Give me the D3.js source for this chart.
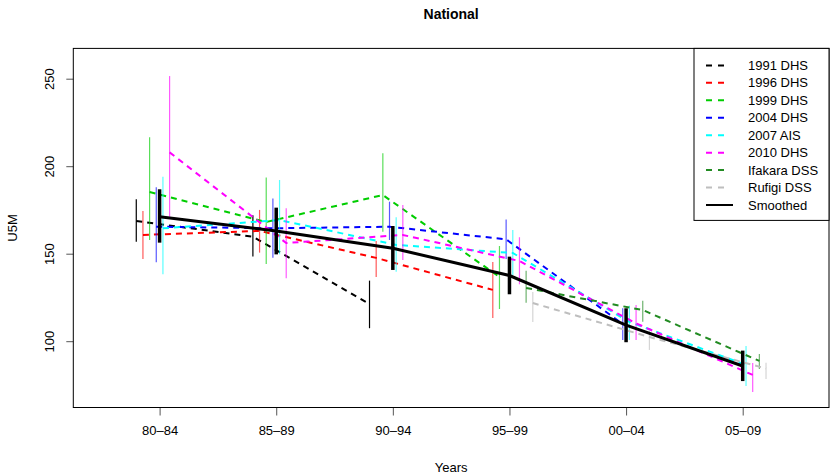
<!DOCTYPE html>
<html>
<head>
<meta charset="utf-8">
<script src="https://cdn.jsdelivr.net/npm/d3@7"></script>
<style>
  body { margin: 0; background: #fff; }
  svg { display: block; font-family: "Liberation Sans", Arial, Helvetica, sans-serif; }
</style>
</head>
<body>
<svg id="chart" width="831" height="476"></svg>
<script>
// Five-year periods and their mid-year positions on the time axis
const periods = ["80–84", "85–89", "90–94", "95–99", "00–04", "05–09"];
const periodMid = [1982.5, 1987.5, 1992.5, 1997.5, 2002.5, 2007.5];
const yTicks = [100, 150, 200, 250];

// Source names, colours and horizontal offset (years) within each period
const sourceNames = ["1991 DHS", "1996 DHS", "1999 DHS", "2004 DHS", "2007 AIS", "2010 DHS", "Ifakara DSS", "Rufigi DSS"];
const sourceColors = ["#000000", "#FF0000", "#00CD00", "#0000FF", "#00FFFF", "#FF00FF", "#228B22", "#BEBEBE"];
const sourceOffsets = [-1, -5 / 7, -3 / 7, -1 / 7, 1 / 7, 3 / 7, 5 / 7, 1];

// Under-five mortality estimates per period (null = no estimate)
const u5m1991 = [169.0, 160.0, 121.5, null, null, null];
const lo1991  = [157.1, 148.7, 107.7, null, null, null];
const hi1991  = [181.4, 172.2, 134.9, null, null, null];

const u5m1996 = [161.0, 163.3, 147.9, 129.6, null, null];
const lo1996  = [147.3, 150.9, 137.0, 113.5, null, null];
const hi1996  = [174.7, 175.3, 157.5, 145.5, null, null];

const u5m1999 = [185.5, 168.4, 183.8, 137.0, null, null];
const lo1999  = [158.1, 144.4, 162.9, 118.7, null, null];
const hi1999  = [216.8, 193.9, 207.7, 154.7, null, null];

const u5m2004 = [165.7, 164.8, 165.7, 158.5, 110.1, null];
const lo2004  = [145.4, 148.0, 158.1, 147.3, 101.0, null];
const hi2004  = [188.2, 181.9, 180.0, 169.9, 119.1, null];

const u5m2007 = [164.8, 169.5, 155.3, 150.7, 111.3, 86.7];
const lo2007  = [138.5, 149.9, 140.0, 138.1, 101.0, 74.7];
const hi2007  = [194.3, 192.4, 171.1, 163.8, 120.6, 97.5];

const u5m2010 = [208.2, 156.4, 161.0, 146.1, 110.5, 81.0];
const lo2010  = [171.4, 136.2, 146.7, 132.8, 101.0, 71.3];
const hi2010  = [251.8, 176.2, 178.1, 159.7, 121.0, 87.8];

const u5mIfakara = [null, null, null, 130.7, 118.1, 89.0];
const loIfakara  = [null, null, null, 122.3, 111.4, 84.4];
const hiIfakara  = [null, null, null, 140.6, 123.4, 93.0];

const u5mRufigi = [null, null, null, 122.1, 102.7, 84.7];
const loRufigi  = [null, null, null, 111.3, 95.3, 78.7];
const hiRufigi  = [null, null, null, 128.4, 106.7, 88.0];

// Smoothed series
const u5mSmooth = [171.4, 163.3, 153.4, 137.8, 109.5, 86.1];
const loSmooth  = [156.6, 149.9, 141.0, 127.1, 99.7, 77.5];
const hiSmooth  = [187.1, 176.6, 166.1, 148.6, 119.1, 94.9];

const estimates = [u5m1991, u5m1996, u5m1999, u5m2004, u5m2007, u5m2010, u5mIfakara, u5mRufigi];
const lowers = [lo1991, lo1996, lo1999, lo2004, lo2007, lo2010, loIfakara, loRufigi];
const uppers = [hi1991, hi1996, hi1999, hi2004, hi2007, hi2010, hiIfakara, hiRufigi];

// Plot region
const plot = { left: 73.3, right: 829, top: 48.4, bottom: 407.5 };
const svg = d3.select("#chart");

const x = d3.scaleLinear().domain([1978.8, 2011.2]).range([plot.left, plot.right]);
const y = d3.scaleLinear().domain([62.4, 267.6]).range([plot.bottom, plot.top]);

const g = svg.append("g");

// Error bars and dashed connecting lines for each source
sourceNames.forEach((name, i) => {
  const pts = periodMid.map((m, k) => ({
    x: m + sourceOffsets[i], v: estimates[i][k], lo: lowers[i][k], hi: uppers[i][k]
  })).filter(d => d.v !== null);

  g.append("g").selectAll("line").data(pts).join("line")
    .attr("x1", d => x(d.x)).attr("x2", d => x(d.x))
    .attr("y1", d => y(d.lo)).attr("y2", d => y(d.hi))
    .attr("stroke", sourceColors[i])
    .attr("stroke-opacity", i === 0 ? 1 : 0.65)
    .attr("stroke-width", 1.2);

  g.append("path").datum(pts)
    .attr("fill", "none")
    .attr("stroke", sourceColors[i])
    .attr("stroke-width", 2)
    .attr("stroke-dasharray", "6,5")
    .attr("d", d3.line().x(d => x(d.x)).y(d => y(d.v)));
});

// Smoothed estimate with thick interval bars
const smooth = periodMid.map((m, k) => ({ x: m, v: u5mSmooth[k], lo: loSmooth[k], hi: hiSmooth[k] }));
g.append("g").selectAll("line").data(smooth).join("line")
  .attr("x1", d => x(d.x)).attr("x2", d => x(d.x))
  .attr("y1", d => y(d.lo)).attr("y2", d => y(d.hi))
  .attr("stroke", "#000").attr("stroke-width", 3.5);
g.append("path").datum(smooth)
  .attr("fill", "none").attr("stroke", "#000").attr("stroke-width", 3)
  .attr("d", d3.line().x(d => x(d.x)).y(d => y(d.v)));

// Axes
const xAxis = d3.axisBottom(x).tickValues(periodMid)
  .tickFormat((d, k) => periods[k]).tickSize(8).tickPadding(10);
const xg = svg.append("g").attr("transform", `translate(0,${plot.bottom})`).call(xAxis);
xg.select(".domain").remove();
xg.selectAll("text").attr("font-size", 13).attr("fill", "#000")
  .attr("font-family", "Liberation Sans, Arial, sans-serif");
xg.selectAll("line").attr("stroke", "#555");

const yAxis = d3.axisLeft(y).tickValues(yTicks).tickSize(7).tickPadding(4);
const yg = svg.append("g").attr("transform", `translate(${plot.left},0)`).call(yAxis);
yg.select(".domain").remove();
yg.selectAll("line").attr("stroke", "#555");
yg.selectAll("text")
  .attr("font-size", 13).attr("fill", "#000")
  .attr("font-family", "Liberation Sans, Arial, sans-serif")
  .attr("x", null).attr("dy", null)
  .attr("text-anchor", "middle")
  .attr("transform", d => `translate(${-24},${y(d)}) rotate(-90)`)
  .attr("y", 0).attr("dy", "0.35em");
yg.selectAll(".tick").attr("transform", "translate(0,0)");
yg.selectAll(".tick line").attr("transform", d => `translate(0,${y(d)})`);

// Plot frame
svg.append("rect")
  .attr("x", plot.left).attr("y", plot.top)
  .attr("width", plot.right - plot.left).attr("height", plot.bottom - plot.top)
  .attr("fill", "none").attr("stroke", "#000").attr("stroke-width", 1);

// Titles
svg.append("text").attr("x", (plot.left + plot.right) / 2).attr("y", 19)
  .attr("text-anchor", "middle").attr("font-weight", "bold").attr("font-size", 14)
  .text("National");
svg.append("text").attr("x", (plot.left + plot.right) / 2).attr("y", 472)
  .attr("text-anchor", "middle").attr("font-size", 13).text("Years");
svg.append("text")
  .attr("transform", `translate(17,${(plot.top + plot.bottom) / 2}) rotate(-90)`)
  .attr("text-anchor", "middle").attr("font-size", 13).text("U5M");

// Legend
const legendNames = sourceNames.concat(["Smoothed"]);
const legendColors = sourceColors.concat(["#000"]);
const lg = svg.append("g");
const legendTop = plot.top;
const rowH = 17.45;
lg.append("rect")
  .attr("x", 694).attr("y", legendTop)
  .attr("width", plot.right - 694).attr("height", 172)
  .attr("fill", "#fff").attr("stroke", "#000");
legendNames.forEach((name, i) => {
  const cy = legendTop + 17 + i * rowH;
  const smoothRow = i === legendNames.length - 1;
  lg.append("line")
    .attr("x1", 706).attr("x2", smoothRow ? 733 : 724).attr("y1", cy).attr("y2", cy)
    .attr("stroke", legendColors[i]).attr("stroke-width", 2)
    .attr("stroke-dasharray", smoothRow ? null : "6,6");
  lg.append("text").attr("x", 748).attr("y", cy).attr("dy", "0.35em")
    .attr("font-size", 13).text(name);
});
</script>
</body>
</html>
